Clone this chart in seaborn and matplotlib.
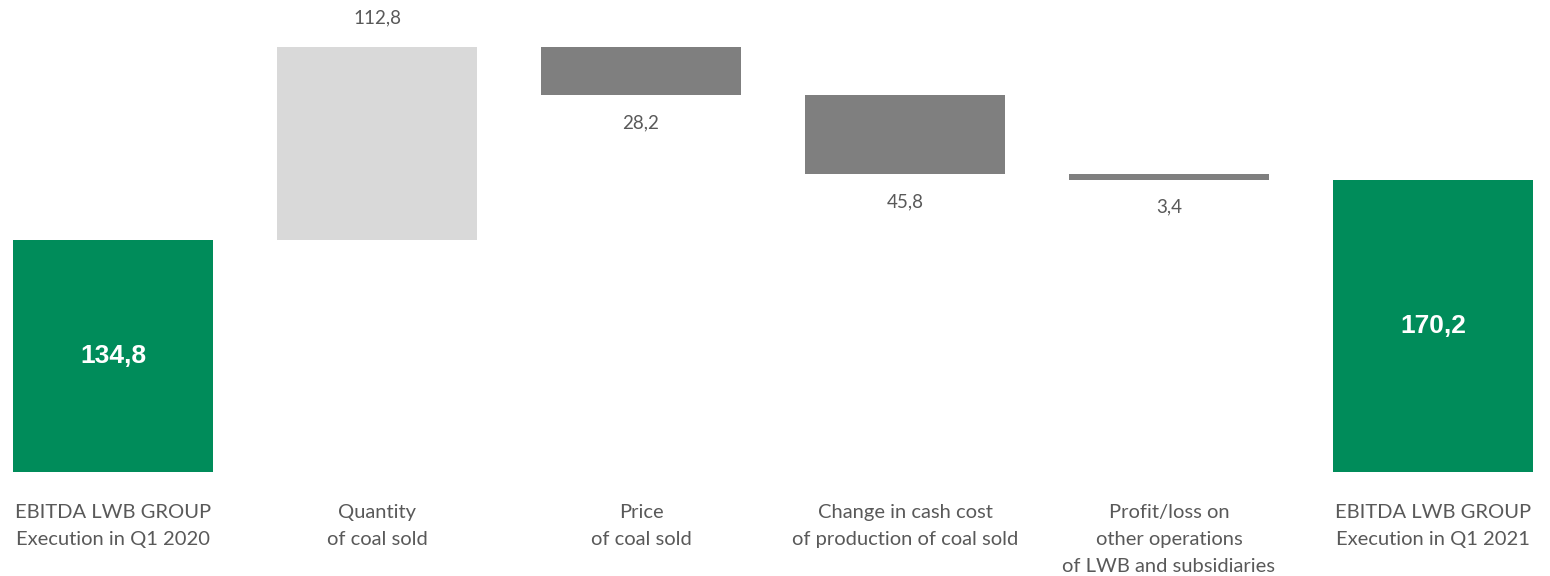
import numpy as np
import pandas as pd
import matplotlib
matplotlib.use("Agg")
import matplotlib.pyplot as plt
import seaborn as sns

categories = [
    "EBITDA LWB GROUP\nExecution in Q1 2020",
    "Quantity\nof coal sold",
    "Price\nof coal sold",
    "Change in cash cost\nof production of coal sold",
    "Profit/loss on\nother operations\nof LWB and subsidiaries",
    "EBITDA LWB GROUP\nExecution in Q1 2021",
]
values = [134.8, 112.8, -28.2, -45.8, -3.4, 170.2]
kinds = ["total", "inc", "dec", "dec", "dec", "total"]

sns.set_theme(style="white")
plt.rcParams["font.family"] = ["Lato", "DejaVu Sans"]

# waterfall geometry
bottoms, heights = [], []
cum = 0.0
for v, k in zip(values, kinds):
    if k == "total":
        bottoms.append(0.0)
        heights.append(v)
        cum = v
    elif v >= 0:
        bottoms.append(cum)
        heights.append(v)
        cum += v
    else:
        bottoms.append(cum + v)
        heights.append(-v)
        cum += v

df = pd.DataFrame({"cat": categories, "h": heights})

colors = {"total": "#008C5A", "inc": "#D9D9D9", "dec": "#7F7F7F"}
txt_col = "#595959"

fig = plt.figure(figsize=(15.5, 5.76), dpi=100)
ax = fig.add_axes([0, 104 / 576, 1, 472 / 576])
sns.barplot(data=df, x="cat", y="h", order=categories, width=0.758,
            bottom=bottoms, color="#7F7F7F", ax=ax, errorbar=None)
for p, k in zip(ax.patches, kinds):
    p.set_facecolor(colors[k])
    p.set_edgecolor("none")

ax.set_xlim(-113 / 264, 5 + 117 / 264)
ax.set_ylim(0, 472 / 1.718)

def fmt(v):
    return f"{abs(v):.1f}".replace(".", ",")

for i, (v, k, b, h) in enumerate(zip(values, kinds, bottoms, heights)):
    if k == "total":
        ax.text(i, b + h / 2, fmt(v), ha="center", va="center", color="white",
                fontsize=19, fontweight="bold", family=["Liberation Sans", "DejaVu Sans"])
    elif v >= 0:
        ax.annotate(fmt(v), (i, b + h), xytext=(0, 21), textcoords="offset points",
                    ha="center", va="center", color=txt_col, fontsize=13.5)
    else:
        ax.annotate(fmt(v), (i, b), xytext=(0, -20), textcoords="offset points",
                    ha="center", va="center", color=txt_col, fontsize=13.5)

ax.set_xlabel("")
ax.set_ylabel("")
ax.set_yticks([])
ax.tick_params(axis="x", length=0, pad=23, labelsize=14.5, labelcolor=txt_col)
for t in ax.get_xticklabels():
    t.set_linespacing(1.72)
sns.despine(ax=ax, left=True, bottom=True)

fig.savefig("out.png", dpi=100)
